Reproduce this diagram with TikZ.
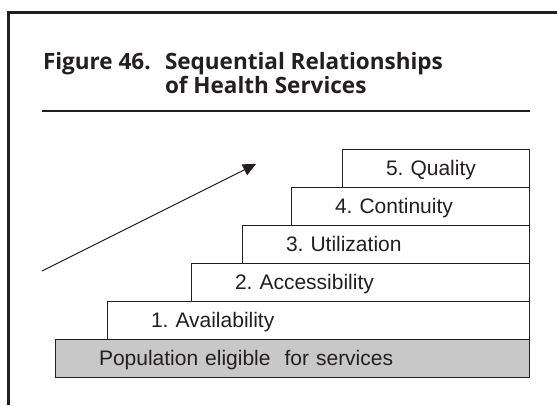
\documentclass[tikz,border=0pt]{standalone}
\usepackage{fontspec}
\setmainfont{Liberation Sans}
\newfontfamily\titlefont{Open Sans}
\usetikzlibrary{arrows.meta, positioning}
\definecolor{ink}{HTML}{231F20}
\definecolor{basegray}{HTML}{C8C8C8}
\frenchspacing

\begin{document}
\begin{tikzpicture}[x=1pt, y=-1pt,
      every node/.style={text=ink, inner sep=0pt, outer sep=0pt},
      stepbox/.style={draw=ink, line width=0.9pt, fill=white, rectangle, minimum height=38pt,
        inner xsep=44pt, text height=15pt, text depth=0pt, align=left, anchor=south east,
        font=\fontsize{21}{25}\selectfont},
      ttl/.style={anchor=base west, font=\titlefont\bfseries\fontsize{22.5}{27}\selectfont}]
    \useasboundingbox (0,0) rectangle (557,405);
    \draw[ink, line width=2.4pt] (8.3,405) |- (557,12.3);
    % title
    \node[ttl] (fignum) at (43,69) {Figure 46.};
    \node[ttl] (ttlone) at (165,69) {Sequential Relationships};
    \node[ttl] (ttltwo) at (165,93) {of Health Services};
    \draw[ink, line width=1.2pt] (42,111) -- (530,111);
    % steps
    \node[stepbox, fill=basegray, text width=386pt] (pop) at (529,377) {Population eligible\ \ for services};
    \node[stepbox, text width=334pt] (s1) at (pop.north east) {1. Availability};
    \node[stepbox, text width=250pt] (s2) at (s1.north east) {2. Accessibility};
    \node[stepbox, text width=199pt] (s3) at (s2.north east) {3. Utilization};
    \node[stepbox, text width=150pt] (s4) at (s3.north east) {4. Continuity};
    \node[stepbox, text width=99pt] (s5) at (s4.north east) {5. Quality};
    % rising arrow
    \coordinate (risetail) at (42,271);
    \coordinate (risetip) at (256,164);
    \draw[ink, line width=1pt, -{Triangle[length=13pt, width=12pt]}] (risetail) -- (risetip);
\end{tikzpicture}
\end{document}
